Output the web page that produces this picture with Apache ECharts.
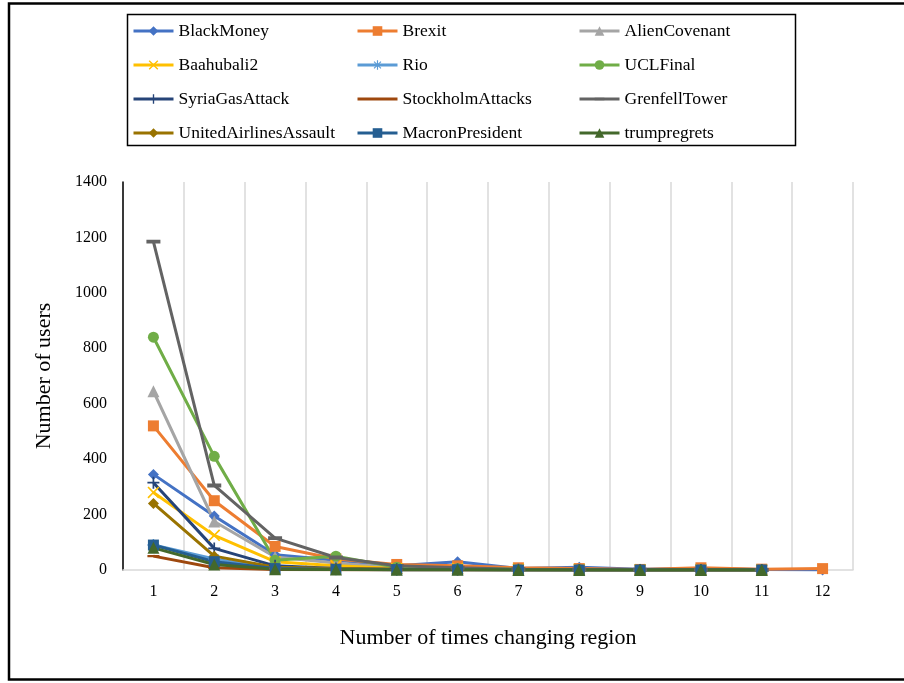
<!DOCTYPE html>
<html>
<head>
<meta charset="utf-8">
<script src="https://cdn.jsdelivr.net/npm/echarts@6/dist/echarts.min.js"></script>
<style>
  html, body { margin: 0; padding: 0; background: #fff; }
  #chart { width: 904px; height: 683px; }
</style>
</head>
<body>
<div id="chart"></div>
<script>
// Number of times a user changes region, per event hashtag
const categories = ['1', '2', '3', '4', '5', '6', '7', '8', '9', '10', '11', '12'];

const BlackMoney            = [345, 195, 55, 35, 15, 30, 5, 10, 3, 5, 2, 0];
const Brexit                = [520, 250, 85, 40, 20, 15, 8, 5, 2, 8, 3, 5];
const AlienCovenant         = [645, 175, 47, 25, 8, 5, 2, 2, 0, 1, 0];
const Baahubali2            = [280, 125, 30, 15, 5, 5, 3, 2, 1, 1, 0];
const Rio                   = [90, 40, 5, 3, 1, 2, 1, 0, 0, 0, 0];
const UCLFinal              = [840, 410, 35, 50, 10, 5, 2, 1, 0, 0, 0];
const SyriaGasAttack        = [315, 78, 15, 5, 3, 2, 1, 0, 0, 0, 0];
const StockholmAttacks      = [50, 8, 2, 1, 0, 0, 0, 0, 0, 0, 0];
const GrenfellTower         = [1185, 305, 115, 45, 15, 8, 3, 2, 1, 1, 0];
const UnitedAirlinesAssault = [240, 50, 10, 5, 2, 1, 0, 0, 0, 0, 0];
const MacronPresident       = [90, 30, 5, 3, 1, 1, 0, 0, 0, 0, 0];
const trumpregrets          = [80, 20, 3, 2, 1, 1, 0, 0, 0, 0, 0];

const yTicks = { min: 0, max: 1400, interval: 200 };

const FONT = '"Liberation Serif", "Times New Roman", serif';

// Custom marker shapes (dashes sit in a square box so they keep their proportions everywhere)
const SYM_X    = 'path://M1,0L5,4L9,0L10,1L6,5L10,9L9,10L5,6L1,10L0,9L4,5L0,1Z';
const SYM_PLUS = 'path://M4.3,0H5.7V4.3H10V5.7H5.7V10H4.3V5.7H0V4.3H4.3Z';
const SYM_STAR = 'path://M4.4,0H5.6V3.6L8.2,1L9,1.8L6.4,4.4H10V5.6H6.4L9,8.2L8.2,9L5.6,6.4V10H4.4V6.4L1.8,9L1,8.2L3.6,5.6H0V4.4H3.6L1,1.8L1.8,1L4.4,3.6Z';
const SYM_DASH_THIN = 'path://M5,0L5.001,0M0,4H10V6H0ZM5,10L5.001,10';
const SYM_DASH_WIDE = 'path://M5,0L5.001,0M0,3.6H10V6.4H0ZM5,10L5.001,10';

const seriesDefs = [
  { name: 'BlackMoney',            data: BlackMoney,            color: '#4472C4', symbol: 'diamond',     size: 11 },
  { name: 'Brexit',                data: Brexit,                color: '#ED7D31', symbol: 'rect',        size: 11 },
  { name: 'AlienCovenant',         data: AlienCovenant,         color: '#A5A5A5', symbol: 'triangle',    size: 12 },
  { name: 'Baahubali2',            data: Baahubali2,            color: '#FFC000', symbol: SYM_X,         size: 12 },
  { name: 'Rio',                   data: Rio,                   color: '#5B9BD5', symbol: SYM_STAR,      size: 12 },
  { name: 'UCLFinal',              data: UCLFinal,              color: '#70AD47', symbol: 'circle',      size: 11 },
  { name: 'SyriaGasAttack',        data: SyriaGasAttack,        color: '#264478', symbol: SYM_PLUS,      size: 12 },
  { name: 'StockholmAttacks',      data: StockholmAttacks,      color: '#9E480E', symbol: SYM_DASH_THIN, size: 12 },
  { name: 'GrenfellTower',         data: GrenfellTower,         color: '#636363', symbol: SYM_DASH_WIDE, size: 14 },
  { name: 'UnitedAirlinesAssault', data: UnitedAirlinesAssault, color: '#997300', symbol: 'diamond',     size: 11 },
  { name: 'MacronPresident',       data: MacronPresident,       color: '#255E91', symbol: 'rect',        size: 11 },
  { name: 'trumpregrets',          data: trumpregrets,          color: '#43682B', symbol: 'triangle',    size: 12 }
];

const series = seriesDefs.map(d => ({
  name: d.name,
  type: 'line',
  data: d.data,
  symbol: d.symbol,
  symbolSize: d.size,
  symbolKeepAspect: true,
  showAllSymbol: true,
  itemStyle: { color: d.color },
  lineStyle: { color: d.color, width: 3 },
  emphasis: { disabled: true },
  animation: false
}));

const legendText = { fontFamily: FONT, fontSize: 17.5, color: '#000', lineHeight: 16 };
function column(names, left) {
  return {
    orient: 'vertical',
    left: left,
    top: 22,
    padding: 0,
    itemWidth: 40,
    itemHeight: 12,
    itemGap: 16,
    selectedMode: false,
    symbolKeepAspect: true,
    lineStyle: { width: 3 },
    textStyle: legendText,
    data: names
  };
}

const chart = echarts.init(document.getElementById('chart'), null, { renderer: 'canvas' });
chart.setOption({
  backgroundColor: '#fff',
  animation: false,
  grid: { left: 123, right: 51, top: 182, bottom: 113 },
  legend: [
    column(['BlackMoney', 'Baahubali2', 'SyriaGasAttack', 'UnitedAirlinesAssault'], 132),
    column(['Brexit', 'Rio', 'StockholmAttacks', 'MacronPresident'], 356),
    column(['AlienCovenant', 'UCLFinal', 'GrenfellTower', 'trumpregrets'], 578)
  ],
  xAxis: {
    type: 'category',
    data: categories,
    boundaryGap: true,
    name: 'Number of times changing region',
    nameLocation: 'middle',
    nameGap: 57,
    nameTextStyle: { fontFamily: FONT, fontSize: 22, color: '#000' },
    axisLine: { lineStyle: { color: '#d9d9d9', width: 1.5 } },
    axisTick: { show: false },
    axisLabel: { fontFamily: FONT, fontSize: 16, color: '#000', margin: 14 },
    splitLine: { show: true, lineStyle: { color: '#d9d9d9', width: 1.5 } }
  },
  yAxis: {
    type: 'value',
    min: yTicks.min,
    max: yTicks.max,
    interval: yTicks.interval,
    name: 'Number of users',
    nameLocation: 'middle',
    nameGap: 68,
    nameTextStyle: { fontFamily: FONT, fontSize: 22, color: '#000' },
    axisLine: { show: true, lineStyle: { color: '#000', width: 1.5 } },
    axisTick: { show: false },
    axisLabel: {
      fontFamily: FONT, fontSize: 16, color: '#000', margin: 16,
      formatter: v => String(v)
    },
    splitLine: { show: false }
  },
  graphic: [
    {
      type: 'rect',
      shape: { x: 9, y: 3.5, width: 1000, height: 676 },
      style: { fill: 'none', stroke: '#000', lineWidth: 2.5 },
      silent: true
    },
    {
      type: 'rect',
      shape: { x: 127.5, y: 14.5, width: 668, height: 131 },
      style: { fill: 'none', stroke: '#000', lineWidth: 1.5 },
      silent: true
    }
  ],
  series: series
});
</script>
</body>
</html>
